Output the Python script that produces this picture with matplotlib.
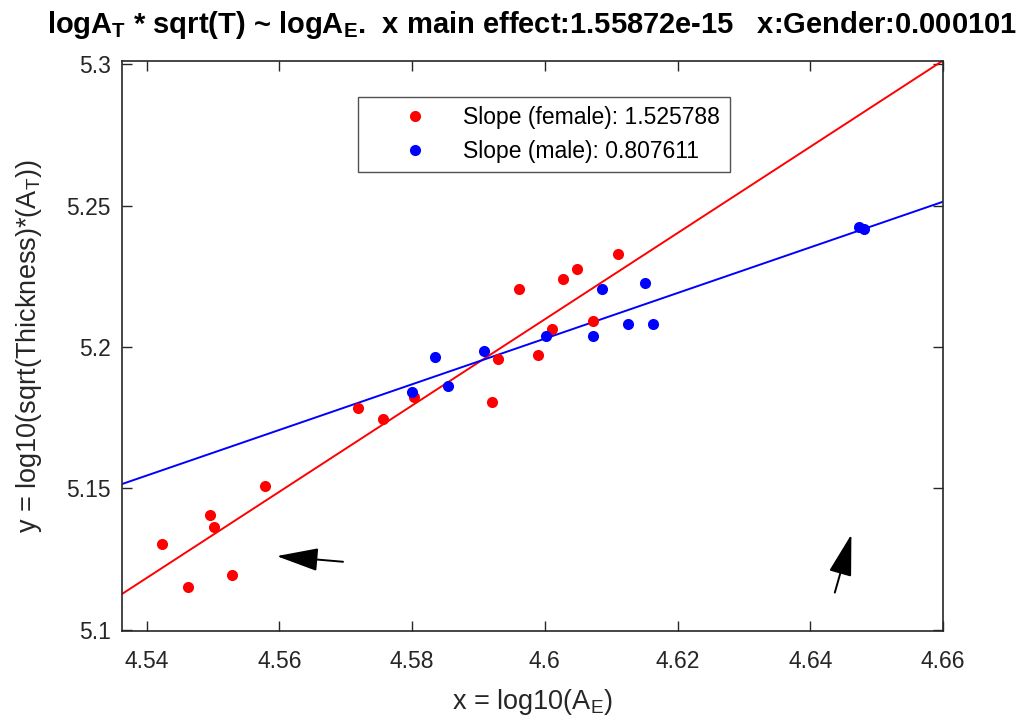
import matplotlib
matplotlib.use("Agg")
import matplotlib.pyplot as plt
import numpy as np

plt.rcParams['font.family'] = ['Liberation Sans', 'DejaVu Sans']
plt.rcParams['mathtext.fontset'] = 'custom'
plt.rcParams['mathtext.rm'] = 'Liberation Sans'
plt.rcParams['mathtext.bf'] = 'Liberation Sans:bold'

# Data
female_x = [4.5423, 4.5463, 4.5496, 4.5502, 4.5528, 4.5578, 4.5718, 4.5756, 4.5803,
            4.5920, 4.5929, 4.5961, 4.5990, 4.6011, 4.6028, 4.6049, 4.6072, 4.6110]
female_y = [5.1303, 5.1152, 5.1406, 5.1364, 5.1193, 5.1509, 5.1784, 5.1744, 5.1824,
            5.1805, 5.1957, 5.2204, 5.1971, 5.2063, 5.2240, 5.2275, 5.2091, 5.2329]
male_x = [4.5800, 4.5835, 4.5854, 4.5909, 4.6002, 4.6072, 4.6086, 4.6125, 4.6151,
          4.6163, 4.6473, 4.6481]
male_y = [5.1841, 5.1964, 5.1862, 5.1987, 5.2039, 5.2039, 5.2204, 5.2081, 5.2226,
          5.2081, 5.2426, 5.2417]

female_slope = 1.525788
male_slope = 0.807611
female_ref = (4.5363, 5.1126)   # (x, y) point on the female fit line
male_ref = (4.5363, 5.1515)     # (x, y) point on the male fit line

arrow1 = ((4.5596, 5.1260), (4.5696, 5.1240))  # (head, tail)
arrow2 = ((4.6462, 5.1337), (4.6437, 5.1131))

xlim = (4.5363, 4.66)
ylim = (5.0996, 5.3013)
xticks = [4.54, 4.56, 4.58, 4.60, 4.62, 4.64, 4.66]
xticklabels = ['4.54', '4.56', '4.58', '4.6', '4.62', '4.64', '4.66']
yticks = [5.10, 5.15, 5.20, 5.25, 5.30]
yticklabels = ['5.1', '5.15', '5.2', '5.25', '5.3']

fig = plt.figure(figsize=(10.21, 7.20), dpi=100)
ax = fig.add_axes([0.1195, 0.124, 0.8041, 0.7917])

axcol = '#262626'
xs = np.array(xlim)
ax.plot(xs, female_ref[1] + female_slope * (xs - female_ref[0]), color='#ff0000', lw=1.4)
ax.plot(xs, male_ref[1] + male_slope * (xs - male_ref[0]), color='#0000ff', lw=1.4)
ax.plot(female_x, female_y, 'o', color='#ff0000', ms=8, mec='none',
        label='Slope (female): %.6f' % female_slope)
ax.plot(male_x, male_y, 'o', color='#0000ff', ms=8, mec='none',
        label='Slope (male): %.6f' % male_slope)

for head, tail in (arrow1, arrow2):
    ax.annotate('', xy=head, xytext=tail,
                arrowprops=dict(arrowstyle='-|>,head_length=1.3,head_width=0.36',
                                color='black', lw=1.4, shrinkA=0, shrinkB=0,
                                mutation_scale=20))

ax.set_xlim(xlim)
ax.set_ylim(ylim)
ax.set_xticks(xticks)
ax.set_xticklabels(xticklabels)
ax.set_yticks(yticks)
ax.set_yticklabels(yticklabels)
ax.tick_params(direction='in', length=7, width=1.0, top=True, right=True,
               labelsize=16.5, colors=axcol)
ax.tick_params(axis='x', pad=14)
ax.tick_params(axis='y', pad=8)
for s in ax.spines.values():
    s.set_color(axcol)
    s.set_linewidth(1.2)

ax.set_xlabel(r'x = log10(A$_\mathrm{E}$)', fontsize=19.5, color=axcol, labelpad=10)
ax.set_ylabel(r'y = log10(sqrt(Thickness)*(A$_\mathrm{T}$))', fontsize=19.5, color=axcol, labelpad=16)
ax.set_title(r'logA$_\mathbf{T}$ * sqrt(T) ~ logA$_\mathbf{E}$.  x main effect:1.55872e-15   x:Gender:0.000101',
             fontsize=21, fontweight='bold', color='black', pad=20)

leg = ax.legend(loc='upper left', bbox_to_anchor=(0.2875, 0.936), fontsize=16.5,
                frameon=True, fancybox=False, edgecolor=axcol, handlelength=4.2,
                handletextpad=0.0, borderpad=0.4, labelspacing=0.45, borderaxespad=0)
leg.get_frame().set_linewidth(1.0)

fig.savefig('out.png', dpi=100)
